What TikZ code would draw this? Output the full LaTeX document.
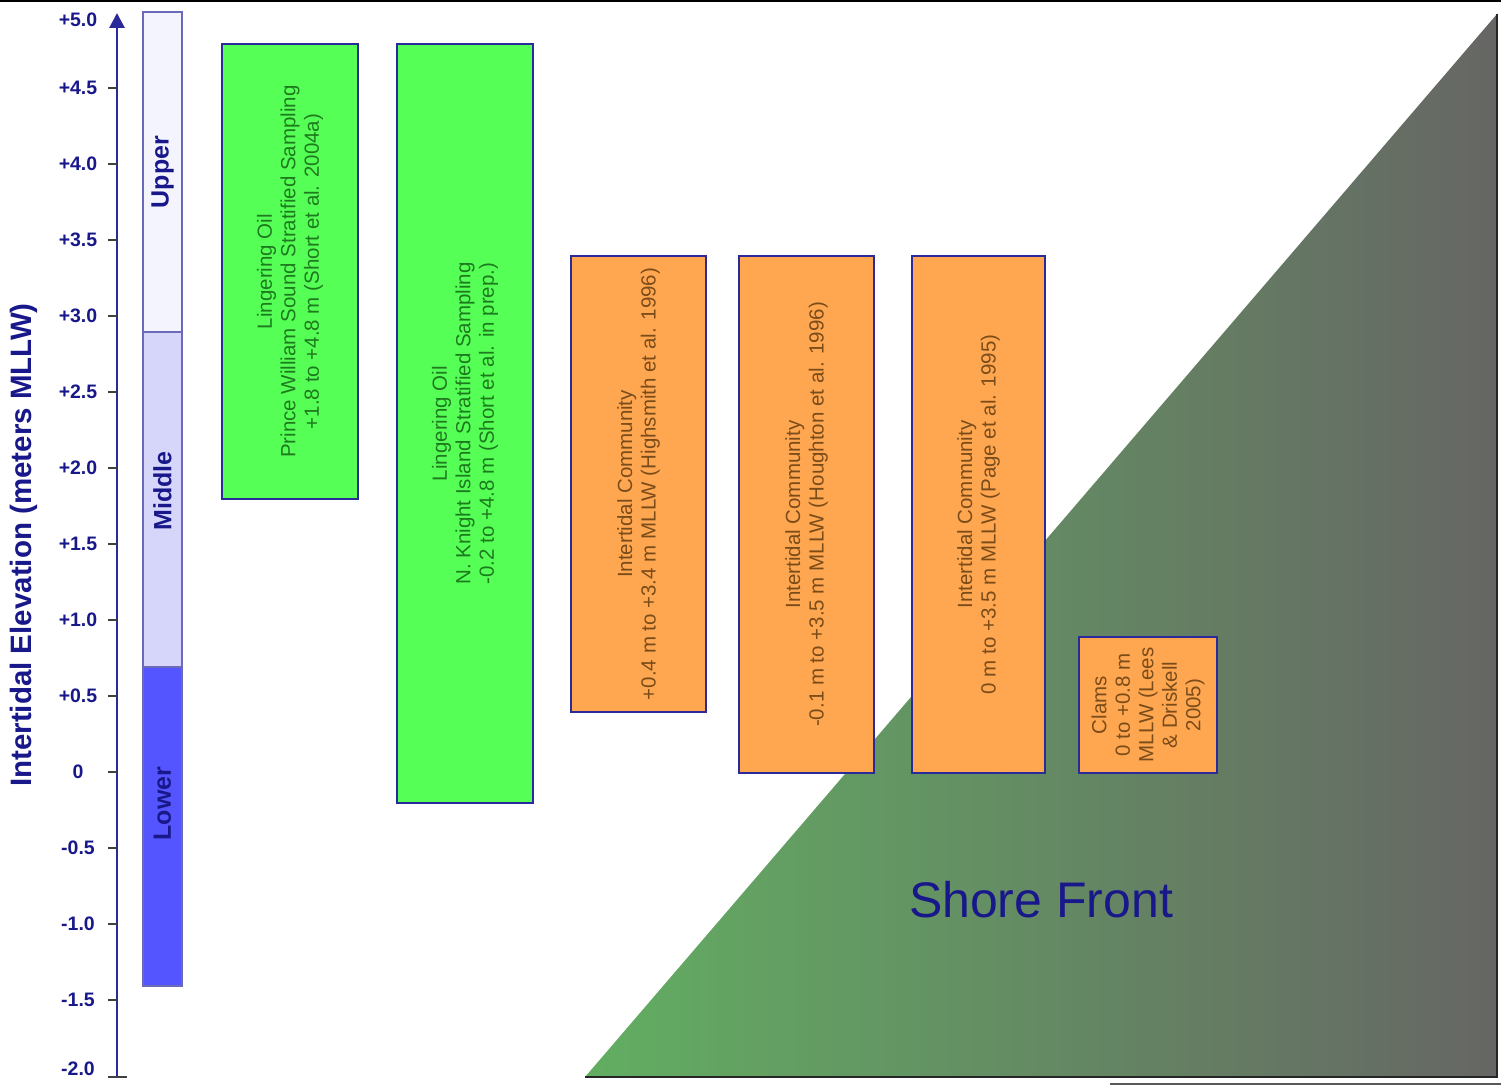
\documentclass[tikz,border=0pt]{standalone}
\usepackage{fontspec}
\setmainfont{Liberation Sans}
\usetikzlibrary{arrows.meta}
\definecolor{navy}{RGB}{24,24,138}
\definecolor{axisblue}{RGB}{42,42,155}
\definecolor{oilgreen}{RGB}{85,255,85}
\definecolor{oiltext}{RGB}{30,122,30}
\definecolor{commorange}{RGB}{255,166,80}
\definecolor{commtext}{RGB}{122,76,25}
\definecolor{upperfill}{RGB}{244,244,255}
\definecolor{middlefill}{RGB}{214,214,250}
\definecolor{lowerfill}{RGB}{85,85,255}
\definecolor{shoregreen}{RGB}{98,174,98}
\definecolor{shoregray}{RGB}{102,102,100}
\tikzset{
  studybox/.style={draw=axisblue, line width=1.8pt, rotate=90, align=center, inner sep=0pt,
    font=\fontsize{20.5}{23.5}\selectfont},
  oilbox/.style={studybox, fill=oilgreen, text=oiltext},
  commbox/.style={studybox, fill=commorange, text=commtext},
  zone/.style={draw=axisblue!70, line width=1.2pt, rotate=90, minimum height=39pt, inner sep=0pt,
    text=navy, font=\fontsize{25}{28}\selectfont\bfseries},
  ticklab/.style={text=navy, inner sep=0pt, font=\fontsize{19.5}{22}\selectfont\bfseries},
  tick/.style={line width=1.5pt, draw=black!75},
}
\begin{document}
\begin{tikzpicture}[x=1pt,y=-1pt]
	\useasboundingbox (0,0) rectangle (1501,1086);
	\draw[line width=2.5pt] (0,1) -- (1501,1);
	% shore front wedge
	\shade[left color=shoregreen, right color=shoregray] (585,1077) -- (1497,14) -- (1497,1077) -- cycle;
	\draw[line width=1.5pt, black!85] (1497,14) -- (1497,1077) -- (585,1077);
	\draw[line width=2pt, black!65] (1110,1084) -- (1501,1084);
	\node[text=navy, font=\fontsize{50}{56}\selectfont] (shore) at (1041,900) {Shore Front};
	% zones
	\node[zone, fill=upperfill, minimum width=320pt] (upper) at (162.5,172) {Upper};
	\node[zone, fill=middlefill, minimum width=335pt] (middle) at (162.5,499.5) {\hspace*{17pt}Middle};
	\node[zone, fill=lowerfill, minimum width=319pt] (lower) at (162.5,826.5) {\hspace*{46pt}Lower};
	% elevation axis
	\coordinate (ybot) at (117,1077);
	\coordinate (ytop) at (117,13);
	\draw[axisblue, line width=2.8pt, -{Triangle[length=15pt,width=15pt]}] (ybot) -- (ytop);
	\foreach \v in {-1.5,-1.0,...,4.5}
	\draw[tick] (108,{772-152*\v}) -- (117,{772-152*\v});
	\draw[tick] (108,1077) -- (127,1077);
	\foreach \v/\lab [count=\i] in {4.5/+4.5,4.0/+4.0,3.5/+3.5,3.0/+3.0,2.5/+2.5,2.0/+2.0,1.5/+1.5,1.0/+1.0,0.5/+0.5,0/0,-0.5/-0.5,-1.0/-1.0,-1.5/-1.5}
	\node[ticklab] (lab\i) at (78,{772-152*\v}) {\lab};
	\node[ticklab] (labtop) at (78,20) {+5.0};
	\node[ticklab] (labbot) at (78,1069) {-2.0};
	\node[rotate=90, text=navy, font=\fontsize{29.5}{32}\selectfont\bfseries] (ytitle) at (24,545) {Intertidal Elevation (meters MLLW)};
	% studies
	\node[oilbox, minimum width=455pt, minimum height=136pt] (pws) at (290,271.5)
	{Lingering Oil\\Prince William Sound Stratified Sampling\\+1.8 to +4.8 m (Short et al. 2004a)};
	\node[oilbox, minimum width=759pt, minimum height=136pt] (nki) at (465,423.5)
	{Lingering Oil\\N. Knight Island Stratified Sampling\\-0.2 to +4.8 m (Short et al. in prep.)};
	\node[commbox, minimum width=456pt, minimum height=135pt] (high) at (638.5,484)
	{Intertidal Community\\+0.4 m to +3.4 m MLLW (Highsmith et al. 1996)};
	\node[commbox, minimum width=517pt, minimum height=135pt] (hough) at (806.5,514.5)
	{Intertidal Community\\-0.1 m to +3.5 m MLLW (Houghton et al. 1996)};
	\node[commbox, minimum width=517pt, minimum height=133pt] (page) at (978.5,514.5)
	{Intertidal Community\\0 m to +3.5 m MLLW (Page et al. 1995)};
	\node[commbox, minimum width=136pt, minimum height=138pt] (clams) at (1148,705)
	{Clams\\0 to +0.8 m\\MLLW (Lees\\\& Driskell\\2005)};
\end{tikzpicture}
\end{document}
